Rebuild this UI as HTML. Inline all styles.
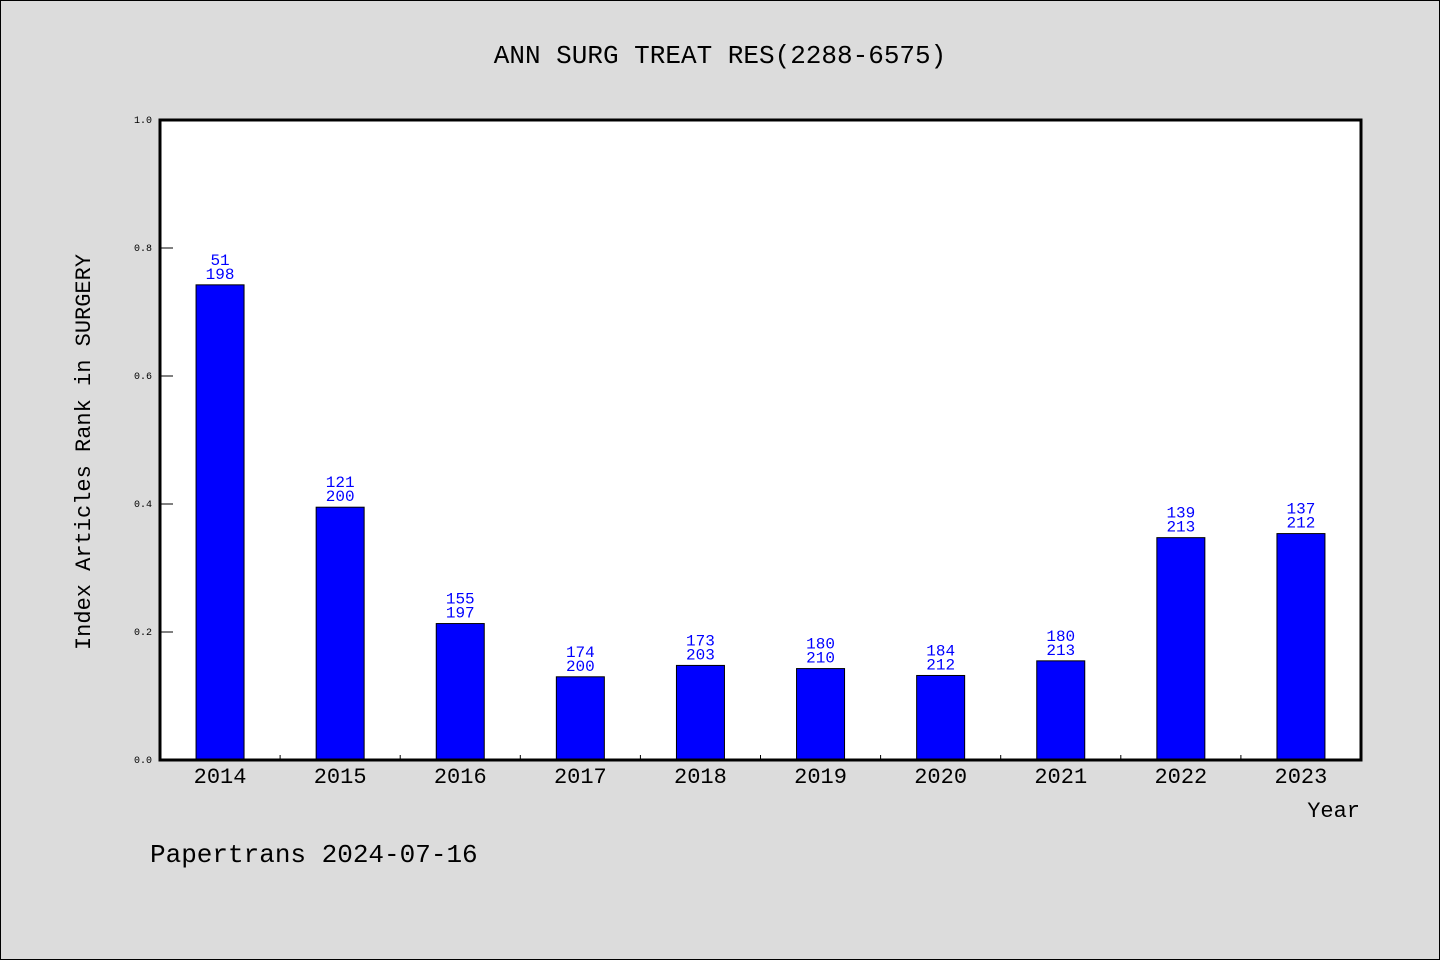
<!DOCTYPE html>
<html><head><meta charset="utf-8"><style>
html,body{margin:0;padding:0;background:#dcdcdc;}
svg{display:block;}
text{font-family:"Liberation Mono","DejaVu Sans Mono",monospace;}
</style></head><body>
<svg id="chart" width="1440" height="960" xmlns="http://www.w3.org/2000/svg">
<rect x="0.5" y="0.5" width="1439" height="959" fill="#dcdcdc" stroke="#000"/>
<text x="720" y="63" text-anchor="middle" font-size="26">ANN SURG TREAT RES(2288-6575)</text>
<rect x="160" y="120" width="1201" height="640" fill="#fff"/>
<g id="bars"></g>
<g id="axes"></g>
<rect x="160" y="120" width="1201" height="640" fill="none" stroke="#000" stroke-width="3"/>
<text x="90" y="452" text-anchor="middle" font-size="22" transform="rotate(-90 90 452)">Index Articles Rank in SURGERY</text>
<text x="1360" y="817" text-anchor="end" font-size="22">Year</text>
<text x="150" y="862" font-size="26">Papertrans 2024-07-16</text>
</svg>
<script>
const categories=["2014","2015","2016","2017","2018","2019","2020","2021","2022","2023"];
const ranks=[51,121,155,174,173,180,184,180,139,137];
const totals=[198,200,197,200,203,210,212,213,213,212];
const yTicks=[0,0.2,0.4,0.6,0.8,1.0];
const NS="http://www.w3.org/2000/svg";
const x0=160,x1=1361,y0=760,y1=120;
const band=(x1-x0)/categories.length;
const xs=i=>x0+band*i+band/2;
const ys=v=>y0-(y0-y1)*v;
function mk(t,a,p){const e=document.createElementNS(NS,t);for(const k in a)e.setAttribute(k,a[k]);p.appendChild(e);return e;}
const bars=document.getElementById('bars'),axes=document.getElementById('axes');
categories.forEach((c,i)=>{
  const v=1-ranks[i]/totals[i];
  const r=mk('rect',{x:xs(i)-24,y:ys(v),width:48,height:y0-ys(v),fill:'#0000ff',stroke:'#000','stroke-width':1},bars);
  
  
  const t1=mk('text',{x:xs(i),y:ys(v)-20,'text-anchor':'middle','font-size':16,fill:'#0000ff'},bars);
  t1.textContent=ranks[i];
  
  
  const t2=mk('text',{x:xs(i),y:ys(v)-6,'text-anchor':'middle','font-size':16,fill:'#0000ff'},bars);
  t2.textContent=totals[i];
  
  
  const xl=mk('text',{x:xs(i),y:783,'text-anchor':'middle','font-size':22},axes);
  xl.textContent=c;
  
  
  if(i>0){const tk=mk('line',{x1:x0+band*i,x2:x0+band*i,y1:y0,y2:y0-5,stroke:'#000'},axes);
  
  }
});
yTicks.forEach(v=>{
  const tk=mk('line',{x1:x0,x2:x0+13,y1:ys(v),y2:ys(v),stroke:'#000'},axes);
  
  
  const l=mk('text',{x:152,y:ys(v)+3,'text-anchor':'end','font-size':10},axes);
  l.textContent=v.toFixed(1);
  
  
});
</script>
</body></html>
